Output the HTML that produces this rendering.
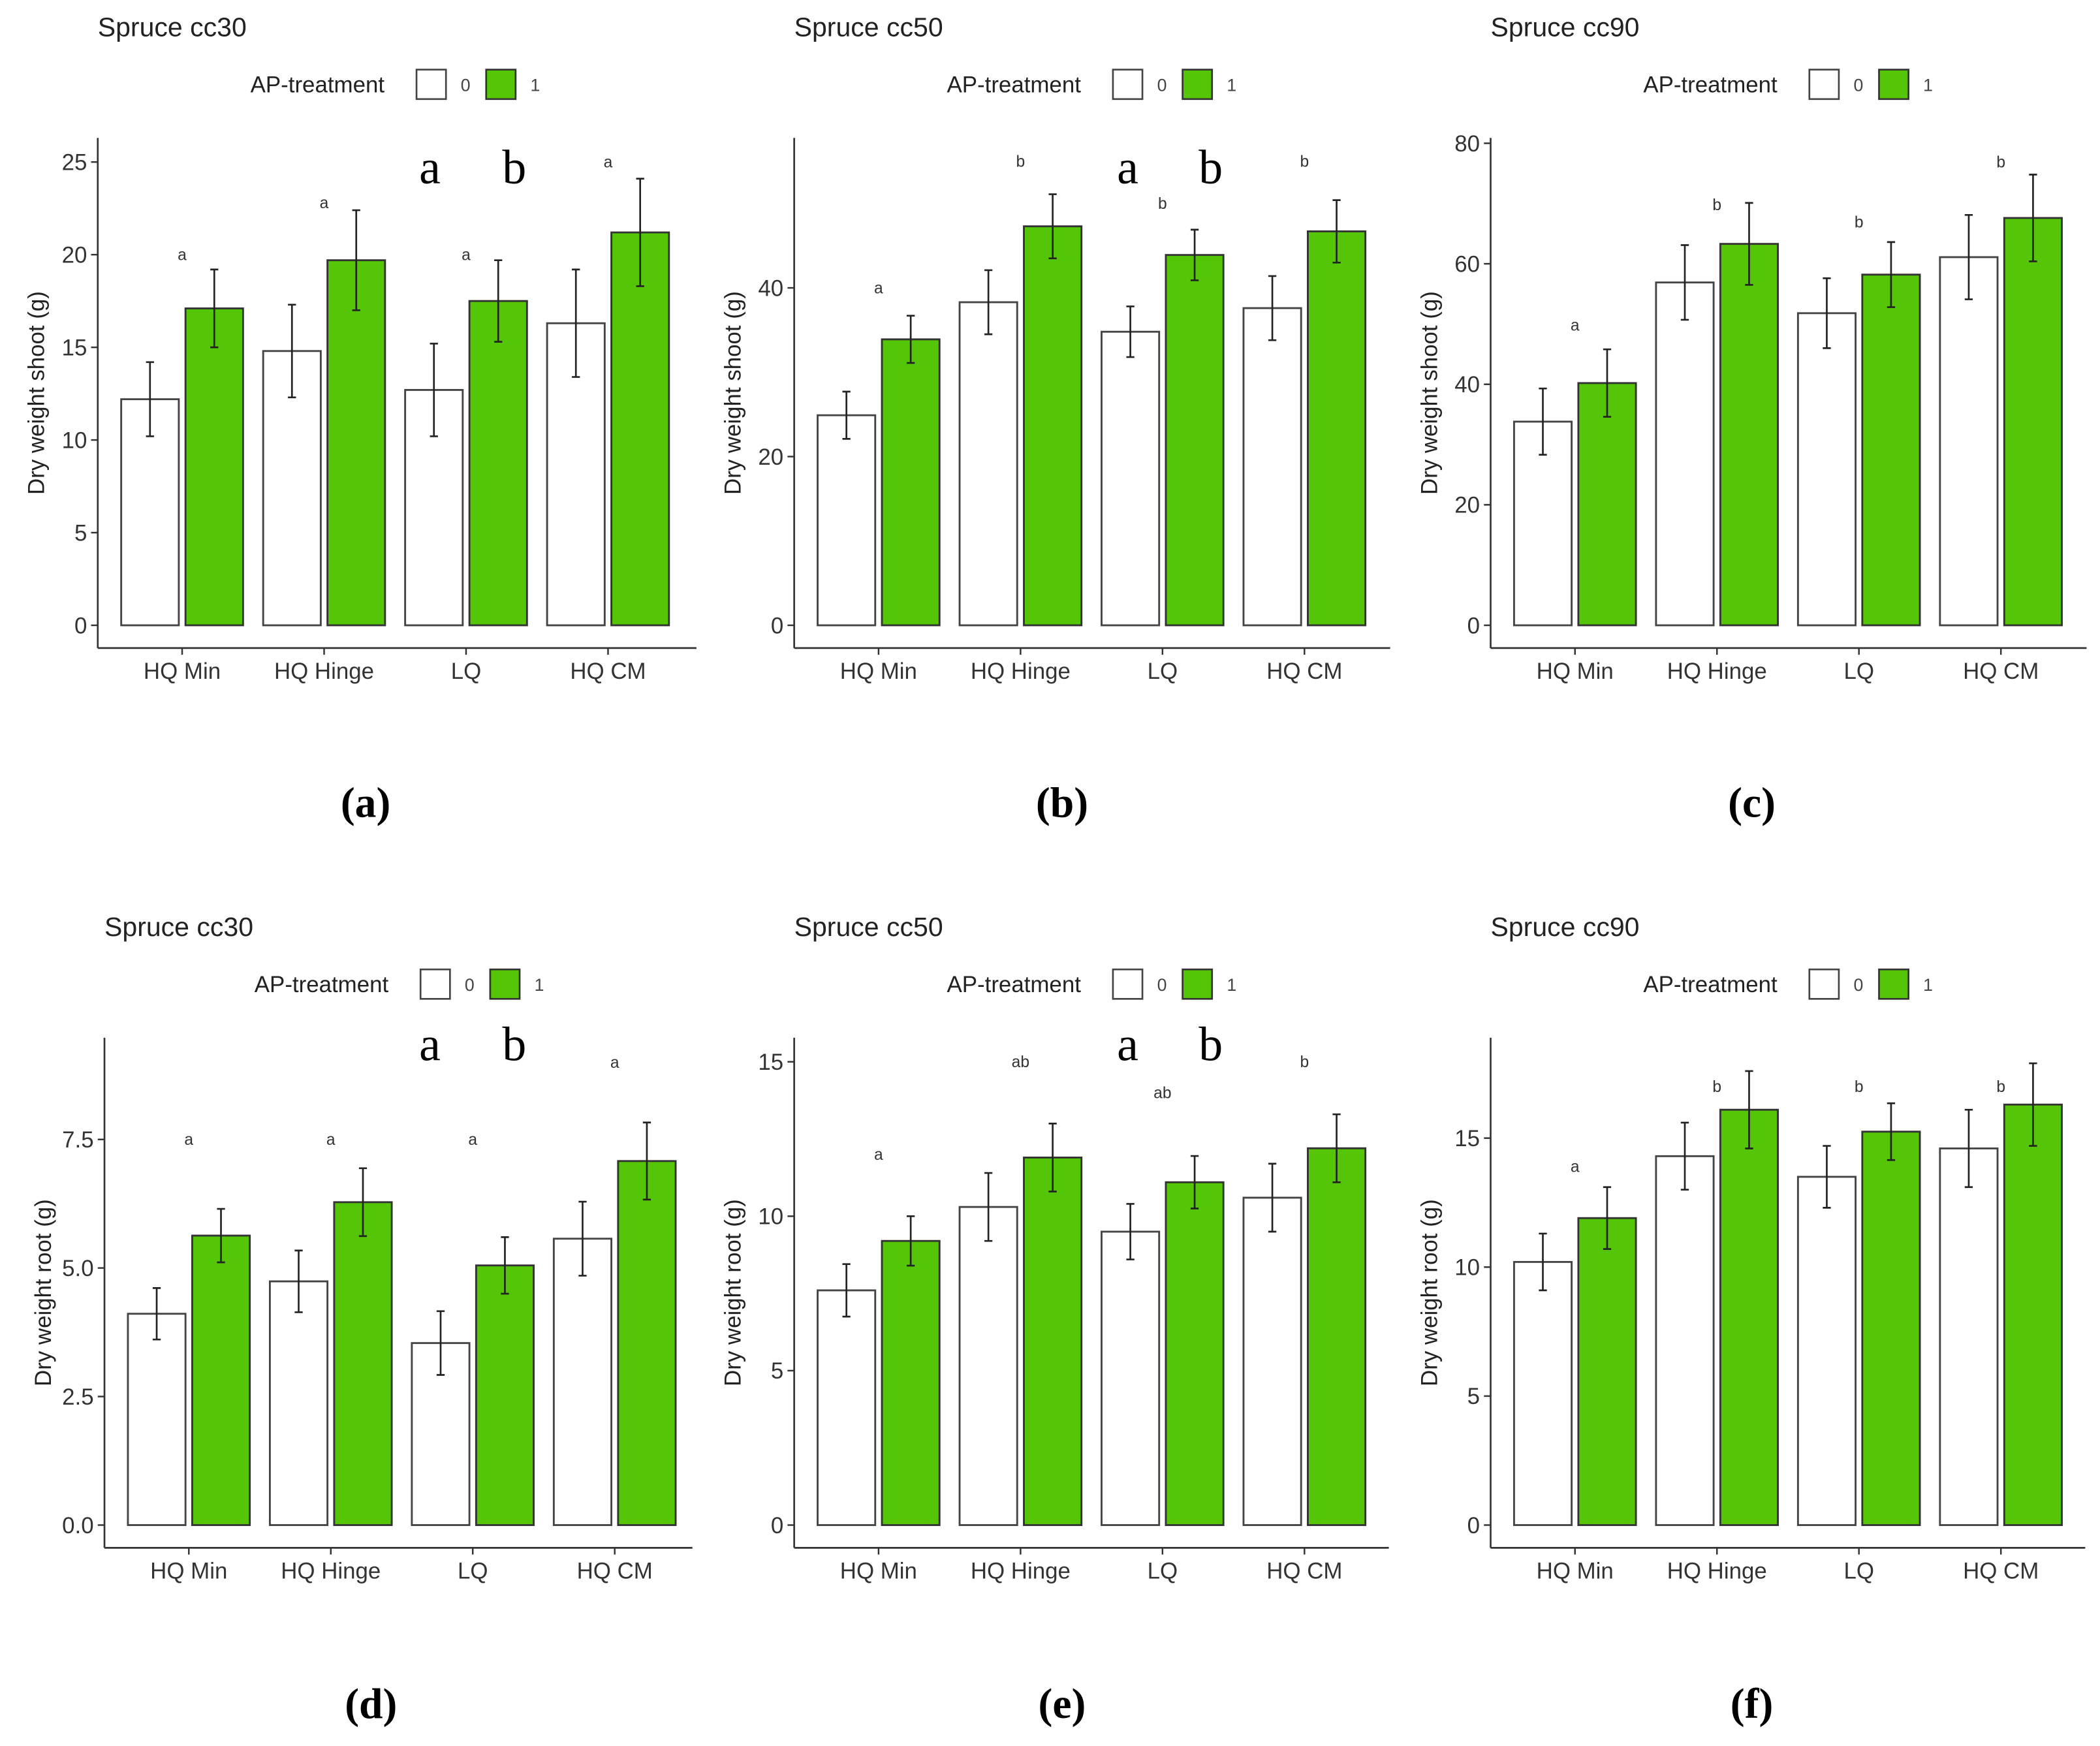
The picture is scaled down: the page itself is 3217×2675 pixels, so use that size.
<!DOCTYPE html>
<html><head><meta charset="utf-8"><style>
html,body{margin:0;padding:0;background:#fff}
svg{display:block}
text{font-family:"Liberation Sans",sans-serif}
</style></head><body>
<svg id="chart" width="3217" height="2675" viewBox="0 0 1568 1304" preserveAspectRatio="none" xmlns="http://www.w3.org/2000/svg"></svg>
<script>
const categories = ["HQ Min","HQ Hinge","LQ","HQ CM"];
// (a) shoot cc30
const aWhite=[12.2,14.8,12.7,16.3], aWhiteErr=[2.0,2.5,2.5,2.9];
const aGreen=[17.1,19.7,17.5,21.2], aGreenErr=[2.1,2.7,2.2,2.9];
const aLetters=["a","a","a","a"], aLetterY=[20,22.8,20,25];
const aTicks=[0,5,10,15,20,25], aTickLabels=["0","5","10","15","20","25"];
// (b) shoot cc50
const bWhite=[24.9,38.3,34.8,37.6], bWhiteErr=[2.8,3.8,3.0,3.8];
const bGreen=[33.9,47.3,43.9,46.7], bGreenErr=[2.8,3.8,3.0,3.7];
const bLetters=["a","b","b","b"], bLetterY=[40,55,50,55];
const bTicks=[0,20,40], bTickLabels=["0","20","40"];
// (c) shoot cc90
const cWhite=[33.8,56.9,51.8,61.1], cWhiteErr=[5.5,6.2,5.8,7.0];
const cGreen=[40.2,63.3,58.2,67.6], cGreenErr=[5.6,6.8,5.4,7.2];
const cLetters=["a","b","b","b"], cLetterY=[49.8,69.8,66.9,76.9];
const cTicks=[0,20,40,60,80], cTickLabels=["0","20","40","60","80"];
// (d) root cc30
const dWhite=[4.11,4.74,3.54,5.57], dWhiteErr=[0.5,0.6,0.62,0.72];
const dGreen=[5.63,6.28,5.05,7.08], dGreenErr=[0.52,0.66,0.55,0.75];
const dLetters=["a","a","a","a"], dLetterY=[7.5,7.5,7.5,9.0];
const dTicks=[0,2.5,5,7.5], dTickLabels=["0.0","2.5","5.0","7.5"];
// (e) root cc50
const eWhite=[7.6,10.3,9.5,10.6], eWhiteErr=[0.85,1.1,0.9,1.1];
const eGreen=[9.2,11.9,11.1,12.2], eGreenErr=[0.8,1.1,0.85,1.1];
const eLetters=["a","ab","ab","b"], eLetterY=[12.0,15.0,14.0,15.0];
const eTicks=[0,5,10,15], eTickLabels=["0","5","10","15"];
// (f) root cc90
const fWhite=[10.2,14.3,13.5,14.6], fWhiteErr=[1.1,1.3,1.2,1.5];
const fGreen=[11.9,16.1,15.25,16.3], fGreenErr=[1.2,1.5,1.1,1.6];
const fLetters=["a","b","b","b"], fLetterY=[13.9,17.0,17.0,17.0];
const fTicks=[0,5,10,15], fTickLabels=["0","5","10","15"];

const NS="http://www.w3.org/2000/svg";
const svg=document.getElementById('chart');
function mk(tag,attrs,parent,txt){const e=document.createElementNS(NS,tag);for(const k in attrs)e.setAttribute(k,attrs[k]);if(txt!==undefined)e.textContent=txt;(parent||svg).appendChild(e);return e;}

const panels=[
 {id:"a",title:"Spruce cc30",ytitle:"Dry weight shoot (g)",ax:73,top:103,bottom:484,right:520,y0:467,yPer:(467-121)/25,titleX:73,titleY:27,legX:187,legY:63,c0:136,cap:"(a)",capX:273,capY:610,big:true,bigY:137,W:aWhite,WE:aWhiteErr,G:aGreen,GE:aGreenErr,L:aLetters,LY:aLetterY,T:aTicks,TL:aTickLabels},
 {id:"b",title:"Spruce cc50",ytitle:"Dry weight shoot (g)",ax:593,top:103,bottom:484,right:1038,y0:467,yPer:(467-215)/40,titleX:593,titleY:27,legX:707,legY:63,c0:656,cap:"(b)",capX:793,capY:610,big:true,bigY:137,W:bWhite,WE:bWhiteErr,G:bGreen,GE:bGreenErr,L:bLetters,LY:bLetterY,T:bTicks,TL:bTickLabels},
 {id:"c",title:"Spruce cc90",ytitle:"Dry weight shoot (g)",ax:1113,top:103,bottom:484,right:1558,y0:467,yPer:(467-107)/80,titleX:1113,titleY:27,legX:1227,legY:63,c0:1176,cap:"(c)",capX:1308,capY:610,big:false,W:cWhite,WE:cWhiteErr,G:cGreen,GE:cGreenErr,L:cLetters,LY:cLetterY,T:cTicks,TL:cTickLabels},
 {id:"d",title:"Spruce cc30",ytitle:"Dry weight root (g)",ax:78,top:775,bottom:1156,right:517,y0:1139,yPer:(1139-851)/7.5,titleX:78,titleY:699,legX:190,legY:735,c0:141,cap:"(d)",capX:277,capY:1283,big:true,bigY:792,W:dWhite,WE:dWhiteErr,G:dGreen,GE:dGreenErr,L:dLetters,LY:dLetterY,T:dTicks,TL:dTickLabels},
 {id:"e",title:"Spruce cc50",ytitle:"Dry weight root (g)",ax:593,top:775,bottom:1156,right:1037,y0:1139,yPer:(1139-793)/15,titleX:593,titleY:699,legX:707,legY:735,c0:656,cap:"(e)",capX:793,capY:1283,big:true,bigY:792,W:eWhite,WE:eWhiteErr,G:eGreen,GE:eGreenErr,L:eLetters,LY:eLetterY,T:eTicks,TL:eTickLabels},
 {id:"f",title:"Spruce cc90",ytitle:"Dry weight root (g)",ax:1113,top:775,bottom:1156,right:1557,y0:1139,yPer:(1139-850)/15,titleX:1113,titleY:699,legX:1227,legY:735,c0:1176,cap:"(f)",capX:1308,capY:1283,big:false,W:fWhite,WE:fWhiteErr,G:fGreen,GE:fGreenErr,L:fLetters,LY:fLetterY,T:fTicks,TL:fTickLabels}
];

const SERIF="font-family:'Liberation Serif','DejaVu Serif',serif";
panels.forEach(p=>{
 const g=mk('g',{});
 
 
 const y=v=>p.y0-v*p.yPer;
 const xc=i=>p.c0+i*106;
 let t=mk('text',{x:p.titleX,y:p.titleY,'font-size':20,fill:'#222'},g,p.title);
 
 
 const lg=mk('g',{},g);
 
 
 mk('text',{x:p.legX,y:p.legY+6,'font-size':17,fill:'#222'},lg,"AP-treatment");
 const bx=p.legX+124;
 let r0=mk('rect',{x:bx,y:p.legY-11,width:22,height:22,fill:'#fff',stroke:'#444','stroke-width':1.3},lg);
 
 
 mk('text',{x:bx+33,y:p.legY+5,'font-size':13,fill:'#444'},lg,"0");
 let r1=mk('rect',{x:bx+52,y:p.legY-11,width:22,height:22,fill:'#54c507',stroke:'#333','stroke-width':1.3},lg);
 
 
 mk('text',{x:bx+85,y:p.legY+5,'font-size':13,fill:'#444'},lg,"1");
 let ya=mk('line',{x1:p.ax,y1:p.top,x2:p.ax,y2:p.bottom,stroke:'#333','stroke-width':1.3},g);
 
 
 let xa=mk('line',{x1:p.ax,y1:p.bottom,x2:p.right,y2:p.bottom,stroke:'#333','stroke-width':1.3},g);
 
 
 p.T.forEach((v,i)=>{
  mk('line',{x1:p.ax-5,y1:y(v),x2:p.ax,y2:y(v),stroke:'#333','stroke-width':1.2},g);
  let tl=mk('text',{x:p.ax-8,y:y(v)+6,'font-size':17,fill:'#333','text-anchor':'end'},g,p.TL[i]);
  
  
 });
 const yt=mk('text',{x:0,y:0,'font-size':17,fill:'#222','text-anchor':'middle',transform:`translate(${p.ax-40},${(p.top+p.bottom)/2}) rotate(-90)`},g,p.ytitle);
 
 
 categories.forEach((c,i)=>{
  mk('line',{x1:xc(i),y1:p.bottom,x2:xc(i),y2:p.bottom+5,stroke:'#333','stroke-width':1.2},g);
  let xl=mk('text',{x:xc(i),y:p.bottom+23,'font-size':17,fill:'#333','text-anchor':'middle'},g,c);
  
  
  [[p.W,p.WE,-24,'#fff','#444','bar-treatment-0'],[p.G,p.GE,24,'#54c507','#333','bar-treatment-1']].forEach(s=>{
   const v=s[0][i], e=s[1][i], cx=xc(i)+s[2];
   let b=mk('rect',{x:cx-21.5,y:y(v),width:43,height:y(0)-y(v),fill:s[3],stroke:s[4],'stroke-width':1.4},g);
   
   
   let eb=mk('path',{d:`M${cx-3},${y(v+e)}H${cx+3}M${cx},${y(v+e)}V${y(v-e)}M${cx-3},${y(v-e)}H${cx+3}`,stroke:'#222','stroke-width':1.3,fill:'none'},g);
   
   
  });
  let lt=mk('text',{x:xc(i),y:y(p.LY[i])+4,'font-size':12,fill:'#333','text-anchor':'middle'},g,p.L[i]);
  
  
 });
 if(p.big){
  const left=(p.id==='d'||p.id==='a');
  let ba=mk('text',{x:left?321:842,y:p.bigY,'font-size':36,fill:'#000','text-anchor':'middle',style:SERIF},g,"a");
  
  
  let bb=mk('text',{x:left?384:904,y:p.bigY,'font-size':36,fill:'#000','text-anchor':'middle',style:SERIF},g,"b");
  
  
 }
 let cp=mk('text',{x:p.capX,y:p.capY,'font-size':32,'font-weight':'bold',fill:'#000','text-anchor':'middle',style:SERIF},g,p.cap);
 
 
});
</script>
</body></html>
